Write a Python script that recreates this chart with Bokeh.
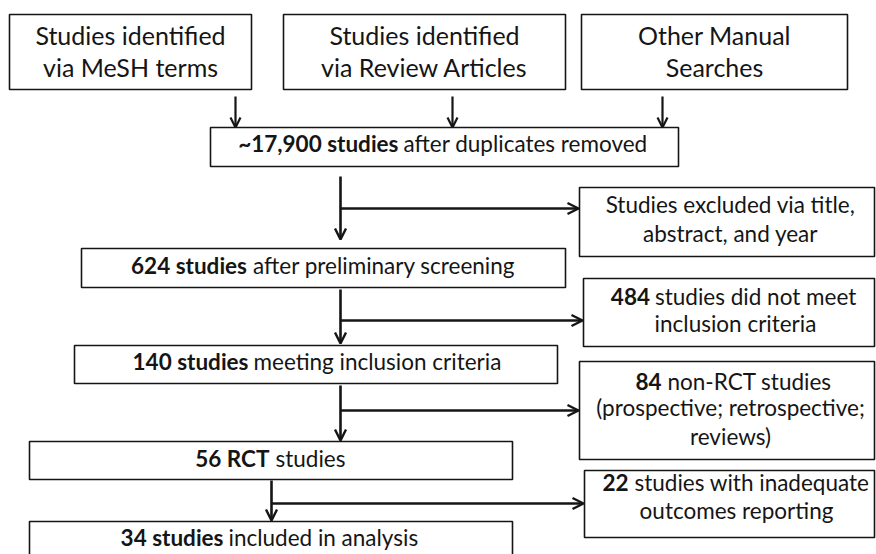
from bokeh.plotting import figure
from bokeh.models import Range1d, Arrow, OpenHead
from bokeh.embed import file_html
from bokeh.resources import INLINE
from bokeh.core.properties import value

# ---------------- data (texts of the flow diagram) ----------------
source_line1 = ["Studies identified", "Studies identified", "Other Manual"]
source_line2 = ["via MeSH terms", "via Review Articles", "Searches"]

main_bold = ["~17,900 studies", "624 studies", "140 studies", "56 RCT", "34 studies"]
main_rest = ["after duplicates removed", "after preliminary screening",
             "meeting inclusion criteria", "studies", "included in analysis"]

excl_bold = ["", "484", "84", "22"]
excl_rest = ["Studies excluded via title,", "studies did not meet",
             "non-RCT studies", "studies with inadequate"]
excl_more = [["abstract, and year"], ["inclusion criteria"],
             ["(prospective; retrospective;", "reviews)"], ["outcomes reporting"]]

# ---------------- layout (pixel coordinates of the picture) ----------------
FONT = value("Lato")
TOP_SIZE = value("25px")
SIZE = value("22.5px")
TOP_SHIFT = 11   # empirical baseline correction
SHIFT = 10
INK = "#151515"

src_boxes = [(9, 251, 14, 89), (283, 565, 14, 89), (581, 847, 14, 89)]
src_cx = [130, 424, 714]
src_base = [45, 77]
src_arrow_x = [235, 452, 662]

main_boxes = [(210, 678, 127, 166), (81, 565, 248, 287), (74, 557, 345, 383),
              (29, 512, 441, 479), (29, 512, 521, 562)]
main_split = [(398, 403), (246.5, 252.5), (248, 253), (269, 275), (223, 228)]
main_base = [153, 275, 371, 468, 547]

excl_boxes = [(579, 874, 187, 256), (583, 874, 278, 346),
              (579, 874, 361, 459), (584, 874, 470, 537)]
excl_line1 = [(None, 730), (649.5, 654.5), (661, 667), (628, 634)]
excl_cx = [730, 735, 730, 736]
excl_base = [[214, 243], [306, 333], [391, 417, 446], [492, 520]]

flows = [  # (x, y_start, y_end_tip, branch_y, branch_tip_x)
    (340, 176, 239, 208, 578),
    (340, 289, 343, 320, 582),
    (340, 385, 440, 410, 578),
    (271, 480, 520, 503, 583),
]

p = figure(width=876, height=554, x_range=Range1d(0, 876), y_range=Range1d(554, 0),
           output_backend="svg", toolbar_location=None,
           x_axis_location=None, y_axis_location=None, min_border=0)
p.grid.visible = False
p.outline_line_color = None
p.background_fill_color = "white"
p.border_fill_color = "white"

all_boxes = src_boxes + main_boxes + excl_boxes
p.quad(left=[b[0] for b in all_boxes], right=[b[1] for b in all_boxes],
       top=[b[2] for b in all_boxes], bottom=[b[3] for b in all_boxes],
       fill_color="white", line_color=INK, line_width=1.6)


def txt(x, y, s, align, size, shift, bold=False):
    p.text(x=[x], y=[y - shift], text=[s], text_align=align,
           text_baseline="alphabetic", text_font=FONT, text_font_size=size,
           text_font_style="bold" if bold else "normal", text_color=INK)


# source boxes text
for i in range(3):
    for s, yb in zip([source_line1[i], source_line2[i]], src_base):
        txt(src_cx[i], yb, s, "center", TOP_SIZE, TOP_SHIFT)

# arrows from source boxes
for x in src_arrow_x:
    p.add_layout(Arrow(x_start=x, y_start=96, x_end=x, y_end=127, line_width=2.2,
                       line_color=INK,
                       end=OpenHead(size=10, line_width=2.2, line_color=INK)))

# main boxes text
for i in range(5):
    bx, nx = main_split[i]
    txt(bx, main_base[i], main_bold[i], "right", SIZE, SHIFT, bold=True)
    txt(nx, main_base[i], main_rest[i], "left", SIZE, SHIFT)

# exclusion boxes text
for i in range(4):
    bx, nx = excl_line1[i]
    y0 = excl_base[i][0]
    if excl_bold[i]:
        txt(bx, y0, excl_bold[i], "right", SIZE, SHIFT, bold=True)
        txt(nx, y0, excl_rest[i], "left", SIZE, SHIFT)
    else:
        txt(nx, y0, excl_rest[i], "center", SIZE, SHIFT)
    for s, yb in zip(excl_more[i], excl_base[i][1:]):
        txt(excl_cx[i], yb, s, "center", SIZE, SHIFT)

# flow lines with branches
for x, ys, ye, by, bx in flows:
    p.add_layout(Arrow(x_start=x, y_start=ys, x_end=x, y_end=ye, line_width=2.6,
                       line_color=INK,
                       end=OpenHead(size=11, line_width=2.4, line_color=INK)))
    p.add_layout(Arrow(x_start=x, y_start=by, x_end=bx, y_end=by, line_width=2.6,
                       line_color=INK,
                       end=OpenHead(size=11, line_width=2.4, line_color=INK)))

open("out.html", "w").write(file_html(p, INLINE))
